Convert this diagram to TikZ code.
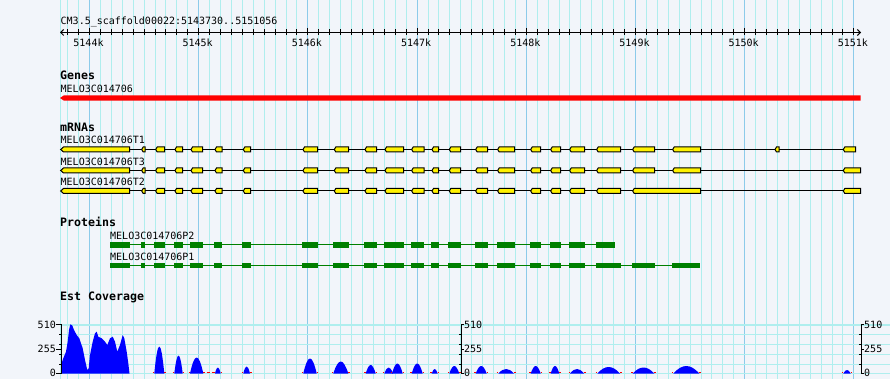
\documentclass[tikz,border=0pt]{standalone}
\usepackage{fontspec}
\newfontfamily\pixfont{DejaVu Sans Mono}
\usetikzlibrary{arrows.meta}
\definecolor{bgcol}{HTML}{F2F5FA}
\definecolor{gridminor}{HTML}{AFEEEE}
\definecolor{gridmajor}{HTML}{8CCBEA}
\definecolor{covblue}{HTML}{0000FF}
\definecolor{protgreen}{HTML}{008000}
\tikzset{
  lab/.style={font=\pixfont\fontsize{10}{12}\selectfont, inner sep=0pt, anchor=base west},
  head/.style={font=\pixfont\fontsize{11.6}{13}\selectfont\bfseries, inner sep=0pt, anchor=base west},
  exon/.style={draw=black, fill=yellow, line width=1pt},
  intron/.style={draw=black, line width=1pt},
  cds/.style={fill=protgreen},
}
% exons shared by all three transcripts
\def\sharedexons{141.7/145, 155.7/164.7, 175/182.7, 191/202.7, 215/222, 243.3/250.7,
  303/317.7, 334.3/348.7, 365/376.7, 385/403.7, 411.7/424, 432/438.7, 449.3/460.7,
  475.7/487.7, 497.7/514.7, 530.7/540.7, 550.7/560.7, 569.7/584.7, 596.7/620.7}
\def\cdsboxes{110/129.7, 141/145, 154/165, 174/182.7, 190/203, 214/222, 242/251,
  302/317.7, 333/348.7, 364/376.7, 384/403.7, 411/424, 431/438.7, 448/461,
  475/488, 497/515, 530/541, 550/561, 569/585}
\begin{document}
\begin{tikzpicture}[x=1pt,y=-1pt]
  \useasboundingbox (0,0) rectangle (890,379);
  \fill[bgcol] (0,0) rectangle (890,379);
  % grid
  \draw[gridminor,line width=1pt] (60,0) -- (60,379);
  \foreach \i in {-2,...,70}
    \draw[gridminor,line width=1pt] ({89.5+\i*10.92},0) -- ({89.5+\i*10.92},379);
  \foreach \i in {0,10,...,70}
    \draw[gridmajor,line width=1pt] ({89.5+\i*10.92},0) -- ({89.5+\i*10.92},379);
  \foreach \y in {334,344,354,364,373.5}
    \draw[gridminor,line width=1pt] (61,\y) -- (890,\y);
  \draw[gridminor,line width=2pt] (61,324.5) -- (890,324.5);

  % ruler
  \node[lab] (region) at (60.5,24.5) {CM3.5\_scaffold00022:5143730..5151056};
  \draw[line width=1pt,{Straight Barb[length=3pt,width=6pt]}-{Straight Barb[length=3pt,width=6pt]}]
    (60,32.5) -- (861,32.5);
  \foreach \i in {-2,...,70}
    \draw[line width=1pt] ({89.5+\i*10.92},29.5) -- ({89.5+\i*10.92},35);
  \foreach \k [count=\n from 0] in {5144,...,5151} {
    \draw[line width=1pt] ({89.5+\n*109.2},28) -- ({89.5+\n*109.2},35.5);
    \node[lab,anchor=base] (tick\k) at ({88.5+\n*109.2},46.5) {\k k};
  }

  % genes
  \node[head] (genes) at (60,80) {Genes};
  \node[lab] (gene) at (60.5,92.5) {MELO3C014706};
  \fill[red] (60,98) -- (64,95.3) -- (860.7,95.3) -- (860.7,100.7) -- (64,100.7) -- cycle;

  % mRNAs
  \node[head] (mrnas) at (60,131.7) {mRNAs};
  \node[lab] (t1) at (60.5,144) {MELO3C014706T1};
  \node[lab] (t3) at (60.5,165.7) {MELO3C014706T3};
  \node[lab] (t2) at (60.5,186) {MELO3C014706T2};
  \draw[intron] (60.7,149.5) -- (855.7,149.5);
  \draw[intron] (60.7,170.5) -- (860.7,170.5);
  \draw[intron] (60.7,191) -- (860.7,191);
  \foreach \y in {149.5,170.5,191} {
    \draw[exon] (60.7,\y) -- (63.5,{\y-2.5}) -- (129.7,{\y-2.5}) -- (129.7,{\y+2.5})
      -- (63.5,{\y+2.5}) -- cycle;
    \foreach \a/\b in \sharedexons
      \draw[exon] (\a,\y) -- ({\a+1.5},{\y-2.5}) -- (\b,{\y-2.5}) -- (\b,{\y+2.5})
        -- ({\a+1.5},{\y+2.5}) -- cycle;
  }
  \foreach \y/\a/\b in {149.5/632.7/654.7, 149.5/672.7/700.7, 149.5/775/779, 149.5/843.3/855.7,
      170.5/632.7/654.7, 170.5/672.7/700.7, 170.5/843.3/860.7,
      191/632.7/700.7, 191/843.3/860.7}
    \draw[exon] (\a,\y) -- ({\a+1.5},{\y-2.5}) -- (\b,{\y-2.5}) -- (\b,{\y+2.5})
      -- ({\a+1.5},{\y+2.5}) -- cycle;

  % proteins
  \node[head] (proteins) at (60,226.7) {Proteins};
  \node[lab] (p2) at (110,239) {MELO3C014706P2};
  \node[lab] (p1) at (110,260) {MELO3C014706P1};
  \draw[protgreen,line width=1pt] (110,244.7) -- (615,244.7);
  \draw[protgreen,line width=1pt] (110,265.5) -- (700,265.5);
  \foreach \y in {244.7,265.5}
    \foreach \a/\b in \cdsboxes
      \fill[cds] (\a,{\y-2.8}) rectangle (\b,{\y+2.8});
  \fill[cds] (596,241.9) rectangle (615,247.5);
  \foreach \a/\b in {596/621, 632/655, 672/700}
    \fill[cds] (\a,262.7) rectangle (\b,268.3);

  % est coverage
  \node[head] (est) at (60,300) {Est Coverage};
  \fill[covblue] (61,373.5) -- (61,365) -- (63.3,358.3) -- (66,351.7) -- (67.7,341.7)
    -- (69,330) -- (70.3,324.3) -- (72.3,325.5) -- (74,330) -- (76.7,335) -- (79.3,338.3)
    -- (82.7,348.3) -- (85,360) -- (87.3,370) -- (88.7,368.3) -- (90,355) -- (92.7,341.7)
    -- (95,333.3) -- (96.7,331.7) -- (98.3,336.7) -- (101.7,338.3) -- (105,341.7)
    -- (107.3,345) -- (110,338.3) -- (112.7,336.7) -- (115,341.7) -- (117.3,351.7)
    -- (120,345) -- (122.7,335) -- (124.3,338.3) -- (126.7,351.7) -- (128.3,363.3)
    -- (129.5,373.5) -- cycle;
  \draw[red,line width=1.5pt] (206.7,372.7) -- (210,372.7) (211.7,372.7) -- (214,372.7);
  \foreach \a/\b/\h in {154.3/164.3/27, 174.3/182.7/18, 190/203.3/16, 215/220.7/6,
      243.3/250/7, 303.3/316.7/15, 333.3/348.3/12, 365.7/375.7/8.5, 384.3/393/6,
      392/402.7/10, 411.7/422.7/10, 431.7/437.7/4.5, 449.3/459.3/7.5, 475.7/486.7/7.5,
      498.3/514/4.5, 530.7/540.7/7.5, 550.7/559.3/7.5, 570/584/4.5, 597.3/620/6.5,
      632.7/654.3/6, 673.3/699.3/7.5, 843.3/850.7/3.5} {
    \draw[red,line width=1.5pt] ({\a-1.5},372.7) -- (\a,372.7) (\b,372.7) -- ({\b+1.5},372.7);
    \fill[covblue] (\a,373.5) .. controls ({\a+0.35*(\b-\a)},{373.5-\h/0.75})
      and ({\b-0.35*(\b-\a)},{373.5-\h/0.75}) .. (\b,373.5) -- cycle;
  }
  % coverage axes
  \foreach \ax in {61,461,861} {
    \draw[line width=1pt] (\ax,324) -- (\ax,373.5);
    \foreach \y in {334,344,354,364}
      \draw[line width=1pt] ({\ax-2},\y) -- (\ax,\y);
  }
  \foreach \y/\v in {324.5/510, 349/255, 373/0} {
    \draw[line width=1pt] (56,\y) -- (61,\y);
    \node[lab,anchor=east] (lval\v) at (56,\y) {\v};
    \draw[line width=1pt] (461,\y) -- (464,\y);
    \node[lab,anchor=west] (mval\v) at (464,\y) {\v};
    \draw[line width=1pt] (861,\y) -- (864,\y);
    \node[lab,anchor=west] (rval\v) at (864,\y) {\v};
  }
\end{tikzpicture}
\end{document}
